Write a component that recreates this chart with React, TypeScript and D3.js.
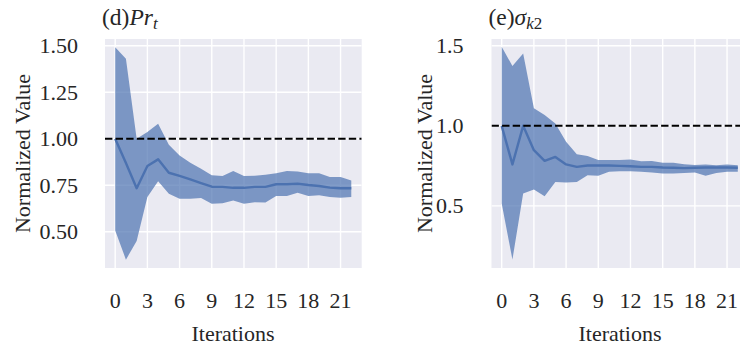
import React from "react";
import * as d3 from "d3";

const iterations = d3.range(0, 23);

const prtMean = [1.0, 0.87, 0.734, 0.853, 0.889, 0.817, 0.8, 0.781, 0.761, 0.742, 0.741, 0.736, 0.736, 0.741, 0.741, 0.755, 0.755, 0.758, 0.751, 0.746, 0.737, 0.734, 0.734];
const prtUpper = [1.492, 1.43, 1.0, 1.036, 1.08, 0.968, 0.91, 0.871, 0.839, 0.803, 0.799, 0.826, 0.799, 0.801, 0.806, 0.815, 0.826, 0.824, 0.815, 0.815, 0.794, 0.794, 0.776];
const prtLower = [0.507, 0.35, 0.45, 0.686, 0.772, 0.704, 0.677, 0.677, 0.681, 0.65, 0.653, 0.668, 0.65, 0.659, 0.657, 0.692, 0.692, 0.71, 0.692, 0.696, 0.686, 0.683, 0.686];

const sigMean = [1.0, 0.759, 1.0, 0.848, 0.781, 0.806, 0.759, 0.744, 0.752, 0.752, 0.752, 0.75, 0.748, 0.744, 0.744, 0.74, 0.738, 0.736, 0.738, 0.74, 0.74, 0.74, 0.738];
const sigUpper = [1.494, 1.373, 1.452, 1.109, 1.067, 1.015, 0.9, 0.823, 0.811, 0.786, 0.786, 0.786, 0.79, 0.779, 0.781, 0.769, 0.769, 0.76, 0.756, 0.758, 0.754, 0.758, 0.754];
const sigLower = [0.515, 0.165, 0.577, 0.602, 0.561, 0.65, 0.646, 0.65, 0.692, 0.688, 0.713, 0.717, 0.717, 0.713, 0.708, 0.702, 0.702, 0.706, 0.708, 0.688, 0.706, 0.713, 0.713];

const xTicks = [0, 3, 6, 9, 12, 15, 18, 21];
const prtYTicks = [0.5, 0.75, 1.0, 1.25, 1.5];
const sigYTicks = [0.5, 1.0, 1.5];
const refValue = 1.0;

const FONT = "Liberation Serif, DejaVu Serif, Times New Roman, serif";
const BLUE = "#4C72B0";
const TXT = "#262626";

type PanelProps = {
  left: number;
  width: number;
  yDomain: [number, number];
  yTicks: number[];
  tickFmt: (v: number) => string;
  mean: number[];
  upper: number[];
  lower: number[];
  title: React.ReactNode;
  labelX: number;
  tickRight: number;
  xLabelX: number;
};

const TOP = 39;
const BOTTOM = 268;

function Panel(p: PanelProps) {
  const x = d3.scaleLinear().domain([-0.95, 22.97]).range([p.left, p.left + p.width]);
  const y = d3.scaleLinear().domain(p.yDomain).range([BOTTOM, TOP]);
  const area = d3
    .area<number>()
    .x((i) => x(iterations[i]))
    .y0((i) => y(p.lower[i]))
    .y1((i) => y(p.upper[i]));
  const line = d3
    .line<number>()
    .x((i) => x(iterations[i]))
    .y((i) => y(p.mean[i]));
  const idx = iterations.map((_, i) => i);
  const clipId = `clip-${Math.round(p.left)}`;
  return (
    <g>
      <defs>
        <clipPath id={clipId}>
          <rect x={p.left} y={TOP} width={p.width} height={BOTTOM - TOP} />
        </clipPath>
      </defs>
      <rect x={p.left} y={TOP} width={p.width} height={BOTTOM - TOP} fill="#EAEAF2" />
      <g clipPath={`url(#${clipId})`}>
        {xTicks.map((t) => (
          <line key={`gx${t}`} x1={x(t)} x2={x(t)} y1={TOP} y2={BOTTOM} stroke="#fff" strokeWidth={1.4} />
        ))}
        {p.yTicks.map((t) => (
          <line key={`gy${t}`} x1={p.left} x2={p.left + p.width} y1={y(t)} y2={y(t)} stroke="#fff" strokeWidth={1.4} />
        ))}
        <path d={area(idx) || ""} fill={BLUE} fillOpacity={0.7} stroke="none" />
        <path d={line(idx) || ""} fill="none" stroke={BLUE} strokeWidth={2.4} strokeLinejoin="round" />
        <line
          x1={p.left}
          x2={p.left + p.width}
          y1={y(refValue)}
          y2={y(refValue)}
          stroke="#000"
          strokeWidth={2}
          strokeDasharray="7.4,3.2"
        />
      </g>
      {p.yTicks.map((t) => (
        <text key={`ty${t}`} x={p.tickRight} y={y(t) + 7.5} textAnchor="end">
          {p.tickFmt(t)}
        </text>
      ))}
      {xTicks.map((t) => (
        <text key={`tx${t}`} x={x(t)} y={308} textAnchor="middle">
          {t}
        </text>
      ))}
      <text x={p.xLabelX} y={341} textAnchor="middle">
        Iterations
      </text>
      <text transform={`translate(${p.labelX},${(TOP + BOTTOM) / 2}) rotate(-90)`} textAnchor="middle">
        Normalized Value
      </text>
      <text x={p.left - 3} y={25} fontSize={23.5}>
        {p.title}
      </text>
    </g>
  );
}

export default function App() {
  return (
    <svg
      width={740}
      height={347}
      fontFamily={FONT}
      fontSize={22}
      fill={TXT}
      style={{ position: "absolute", left: 0, top: 0, display: "block", background: "#fff", fontFamily: FONT }}
    >
      <Panel
        left={105}
        width={256.7}
        yDomain={[0.305, 1.536]}
        yTicks={prtYTicks}
        tickFmt={(v) => v.toFixed(2)}
        mean={prtMean}
        upper={prtUpper}
        lower={prtLower}
        labelX={30}
        tickRight={78}
        xLabelX={233}
        title={
          <>
            <tspan>(d)</tspan>
            <tspan fontStyle="italic">Pr</tspan>
            <tspan fontStyle="italic" fontSize={17} dy={4}>t</tspan>
          </>
        }
      />
      <Panel
        left={491.5}
        width={256.7}
        yDomain={[0.1125, 1.542]}
        yTicks={sigYTicks}
        tickFmt={(v) => v.toFixed(1)}
        mean={sigMean}
        upper={sigUpper}
        lower={sigLower}
        labelX={431.5}
        tickRight={463.5}
        xLabelX={620}
        title={
          <>
            <tspan>(e)</tspan>
            <tspan fontStyle="italic">σ</tspan>
            <tspan fontStyle="italic" fontSize={17} dy={4}>k</tspan>
            <tspan fontSize={17}>2</tspan>
          </>
        }
      />
    </svg>
  );
}
